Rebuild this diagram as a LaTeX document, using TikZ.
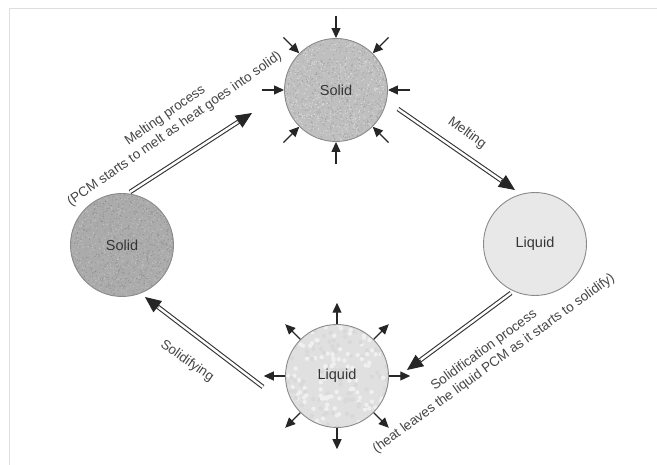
\documentclass[tikz,border=0pt]{standalone}
\usepackage{fontspec}
\setmainfont{Liberation Sans}
\usetikzlibrary{arrows.meta,calc}
\definecolor{txt}{HTML}{353535}
\definecolor{lbltxt}{HTML}{454545}
\definecolor{rim}{HTML}{8A8A8A}
\begin{document}
\begin{tikzpicture}[x=1pt,y=-1pt,
  blob/.style={circle, draw=rim, line width=0.9pt, minimum size=103pt, inner sep=0pt,
    font=\fontsize{14.5}{16}\selectfont, text=txt},
  speckle/.style n args={4}{path picture={
    \foreach \i in {1,...,#3}{
      \fill[#1] ($(path picture bounding box.center)+({53*rand},{53*rand})$) circle (#4);
      \fill[#2] ($(path picture bounding box.center)+({53*rand},{53*rand})$) circle (#4);
    }}},
  small/.style={line width=1.2pt, draw=black!85, -{Triangle[length=10pt,width=9pt]}},
  shaft/.style={draw=black!80, line width=1.1pt, double=white, double distance=2.4pt},
  head/.style={draw=black!85, line width=0.9pt, -{Triangle[length=16pt,width=14pt]}},
  lbl/.style={font=\fontsize{13.5}{16.5}\selectfont, text=lbltxt, align=center, inner sep=0pt}]
\useasboundingbox (0,0) rectangle (657,465);
\draw[black!13, line width=0.8pt] (657,8) -- (9,8) -- (9,465);
\pgfmathsetseed{11}

% circles
\node[blob, fill=black!25, speckle={black!36}{black!13}{800}{0.6}] (ts) at (336,90) {Solid};
\node[blob, fill=black!33, speckle={black!43}{black!24}{800}{0.6}] (ls) at (122,245) {Solid};
\node[blob, fill=black!9] (rl) at (535,244) {Liquid};
\node[blob, fill=black!12, speckle={black!15}{black!6}{120}{2.2}] (bl) at (337,376) {Liquid};

% heat arrows
\foreach \a in {0,45,...,315}{
  \draw[small] ($(ts.center)!1.43!(ts.\a)$) -- (ts.\a);
  \draw[small] (bl.\a) -- ($(bl.center)!1.41!(bl.\a)$);
}

% big arrows
\coordinate (a1s) at (130,192); \coordinate (a1e) at (252,113);
\coordinate (a2s) at (398,109); \coordinate (a2e) at (515,190);
\coordinate (a3s) at (511,293); \coordinate (a3e) at (407,370);
\coordinate (a4s) at (263,387); \coordinate (a4e) at (145,297);
\foreach \s/\e in {a1s/a1e,a2s/a2e,a3s/a3e,a4s/a4e}{
  \draw[shaft, shorten >=13pt] (\s) -- (\e);
  \draw[head] ($(\e)!17pt!(\s)$) -- (\e);
}

% labels
\node[lbl, rotate=35] (l1) at (170,122.5) {Melting process\\(PCM starts to melt as heat goes into solid)};
\node[lbl, rotate=-36] (l2) at (467,133) {Melting};
\node[lbl, rotate=36] (l3) at (489,357) {Solidification process\\(heat leaves the liquid PCM as it starts to solidify)};
\node[lbl, rotate=-35] (l4) at (187,361) {Solidifying};
\end{tikzpicture}
\end{document}
